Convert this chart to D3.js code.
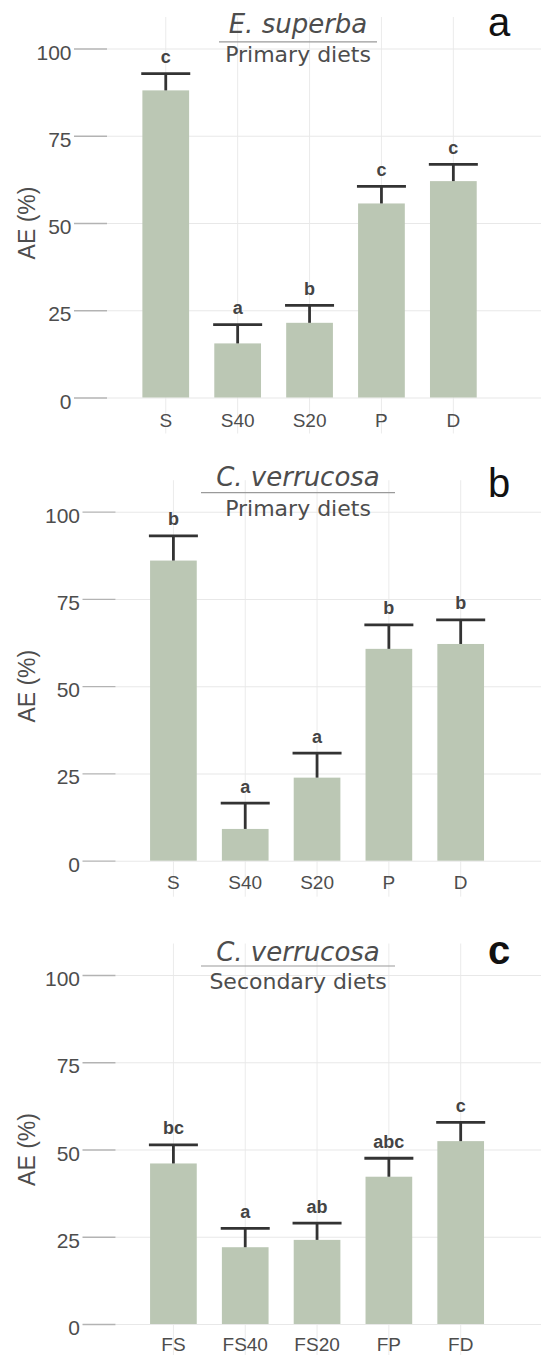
<!DOCTYPE html>
<html>
<head>
<meta charset="utf-8">
<script src="https://cdn.jsdelivr.net/npm/d3@7"></script>
<style>
  html, body { margin: 0; padding: 0; background: #fff; }
  svg { display: block; }
  .tick-label { font-family: "Liberation Sans", Arial, sans-serif; fill: #4d4d4d; }
  .title { font-family: "DejaVu Sans", sans-serif; fill: #4d4d4d; }
</style>
</head>
<body>
<div id="chart"></div>
<script>
// Data
const primaryDiets = ["S", "S40", "S20", "P", "D"];
const secondaryDiets = ["FS", "FS40", "FS20", "FP", "FD"];
const yTicks = [0, 25, 50, 75, 100];

const superbaPrimaryAE = [88.0, 15.5, 21.4, 55.6, 62.0];
const superbaPrimarySE = [4.8, 5.4, 5.0, 4.9, 4.8];
const superbaPrimaryGroups = ["c", "a", "b", "c", "c"];

const verrucosaPrimaryAE = [86.0, 9.1, 23.8, 60.7, 62.1];
const verrucosaPrimarySE = [7.1, 7.4, 7.0, 6.9, 6.9];
const verrucosaPrimaryGroups = ["b", "a", "a", "b", "b"];

const verrucosaSecondaryAE = [46.0, 22.0, 24.1, 42.2, 52.4];
const verrucosaSecondarySE = [5.3, 5.4, 4.8, 5.3, 5.4];
const verrucosaSecondaryGroups = ["bc", "a", "ab", "abc", "c"];

const panelLetters = ["a", "b", "c"];
const species = ["E. superba", "C. verrucosa", "C. verrucosa"];
const dietTypes = ["Primary diets", "Primary diets", "Secondary diets"];

const width = 541;
const height = 1355;
const plotHeight = 349;
const barColor = "#bbc7b4";
const errColor = "#333333";

// layout of each panel (pixels)
const layouts = [
  { y100: 48.5, tickStart: 74, tickEnd: 107, xRange: [129.8, 489.3], xLabelDy: 29,
    titleY: -16, ruleY: -6.6, ruleHalf: 79, subY: 13.2, letterY: -12.2, letterBold: false },
  { y100: 511.7, tickStart: 82.5, tickEnd: 115.5, xRange: [137.5, 496.6], xLabelDy: 28.6,
    titleY: -25.7, ruleY: -19, ruleHalf: 97, subY: 4, letterY: -15, letterBold: false },
  { y100: 975, tickStart: 82.5, tickEnd: 115.5, xRange: [137.5, 496.6], xLabelDy: 27,
    titleY: -14, ruleY: -9, ruleHalf: 97, subY: 14.3, letterY: -11.5, letterBold: true }
];

const panels = [
  { diets: primaryDiets, ae: superbaPrimaryAE, se: superbaPrimarySE, groups: superbaPrimaryGroups },
  { diets: primaryDiets, ae: verrucosaPrimaryAE, se: verrucosaPrimarySE, groups: verrucosaPrimaryGroups },
  { diets: secondaryDiets, ae: verrucosaSecondaryAE, se: verrucosaSecondarySE, groups: verrucosaSecondaryGroups }
];

const svg = d3.select("#chart")
  .append("svg")
  .attr("width", width)
  .attr("height", height);

panels.forEach((panel, i) => {
  const L = layouts[i];
  const y0 = L.y100 + plotHeight;
  const rows = panel.diets.map((diet, j) => ({
    diet, ae: panel.ae[j], se: panel.se[j], group: panel.groups[j]
  }));

  const x = d3.scaleBand()
    .domain(panel.diets)
    .range(L.xRange)
    .paddingInner(0.35)
    .paddingOuter(0.175);
  const y = d3.scaleLinear().domain([0, 100]).range([y0, L.y100]);
  const bw = x.bandwidth();

  const g = svg.append("g").attr("class", "panel");

  // vertical grid at each category
  g.selectAll("line.vgrid")
    .data(panel.diets)
    .join("line")
    .attr("class", "vgrid")
    .attr("x1", (d) => x(d) + bw / 2)
    .attr("x2", (d) => x(d) + bw / 2)
    .attr("y1", L.y100 - 31.5)
    .attr("y2", y0 + 36)
    .attr("stroke", "#ebebeb")
    .attr("stroke-width", 1);

  // horizontal grid
  const grid = g.append("g")
    .attr("transform", `translate(${L.tickEnd},0)`)
    .call(d3.axisRight(y).tickValues(yTicks).tickSize(width - L.tickEnd).tickFormat(""));
  grid.select(".domain").remove();
  grid.selectAll("line").attr("stroke", "#e8e8e8").attr("stroke-width", 1.1);

  // y axis ticks and labels
  const yAxis = g.append("g")
    .attr("transform", `translate(${L.tickEnd},0)`)
    .call(d3.axisLeft(y).tickValues(yTicks).tickSize(L.tickEnd - L.tickStart).tickPadding(2.5));
  yAxis.select(".domain").remove();
  yAxis.selectAll("line").attr("stroke", "#b3b3b3").attr("stroke-width", 1.3);
  yAxis.selectAll("text")
    .attr("class", "tick-label")
    .attr("dy", "0.5em")
    .style("font-size", "21px");

  // x axis labels
  const xAxis = g.append("g")
    .attr("transform", `translate(0,${y0})`)
    .call(d3.axisBottom(x).tickSize(0));
  xAxis.select(".domain").remove();
  xAxis.selectAll("text")
    .attr("class", "tick-label")
    .attr("y", L.xLabelDy)
    .attr("dy", null)
    .style("font-size", "19px");

  // bars
  g.selectAll("rect.bar")
    .data(rows)
    .join("rect")
    .attr("class", "bar")
    .attr("x", (d) => x(d.diet))
    .attr("y", (d) => y(d.ae))
    .attr("width", bw)
    .attr("height", (d) => y0 - y(d.ae))
    .attr("fill", barColor);

  // error bars (upper half)
  const err = g.selectAll("g.err")
    .data(rows)
    .join("g")
    .attr("class", "err");
  err.append("line")
    .attr("x1", (d) => x(d.diet) + bw / 2)
    .attr("x2", (d) => x(d.diet) + bw / 2)
    .attr("y1", (d) => y(d.ae))
    .attr("y2", (d) => y(d.ae + d.se))
    .attr("stroke", errColor)
    .attr("stroke-width", 2.8);
  err.append("line")
    .attr("x1", (d) => x(d.diet) + bw / 2 - 24.5)
    .attr("x2", (d) => x(d.diet) + bw / 2 + 24.5)
    .attr("y1", (d) => y(d.ae + d.se))
    .attr("y2", (d) => y(d.ae + d.se))
    .attr("stroke", errColor)
    .attr("stroke-width", 2.8);

  // significance letters
  g.selectAll("text.sig")
    .data(rows)
    .join("text")
    .attr("class", "sig")
    .attr("x", (d) => x(d.diet) + bw / 2)
    .attr("y", (d) => y(d.ae + d.se) - 10.5)
    .attr("text-anchor", "middle")
    .attr("font-family", "Liberation Sans, Arial, sans-serif")
    .attr("font-weight", "bold")
    .attr("font-size", 18)
    .attr("fill", "#444")
    .text((d) => d.group);

  // title block
  const cx = 298;
  g.append("text")
    .attr("class", "title")
    .attr("x", cx)
    .attr("y", L.y100 + L.titleY)
    .attr("text-anchor", "middle")
    .attr("font-style", "italic")
    .attr("font-size", 26)
    .text(species[i]);
  g.append("line")
    .attr("x1", cx - L.ruleHalf)
    .attr("x2", cx + L.ruleHalf)
    .attr("y1", L.y100 + L.ruleY)
    .attr("y2", L.y100 + L.ruleY)
    .attr("stroke", "#9a9a9a")
    .attr("stroke-width", 1.2);
  g.append("text")
    .attr("class", "title")
    .attr("x", cx)
    .attr("y", L.y100 + L.subY)
    .attr("text-anchor", "middle")
    .attr("font-size", 22)
    .text(dietTypes[i]);

  // y axis title
  g.append("text")
    .attr("class", "tick-label")
    .attr("transform", `translate(35,${(L.y100 + y0) / 2}) rotate(-90)`)
    .attr("text-anchor", "middle")
    .attr("font-size", 23)
    .text("AE (%)");

  // panel letter
  g.append("text")
    .attr("x", 499)
    .attr("y", L.y100 + L.letterY)
    .attr("text-anchor", "middle")
    .attr("font-family", "Liberation Sans, Arial, sans-serif")
    .attr("font-size", 40)
    .attr("font-weight", L.letterBold ? "bold" : "normal")
    .attr("fill", "#111")
    .text(panelLetters[i]);
});
</script>
</body>
</html>
